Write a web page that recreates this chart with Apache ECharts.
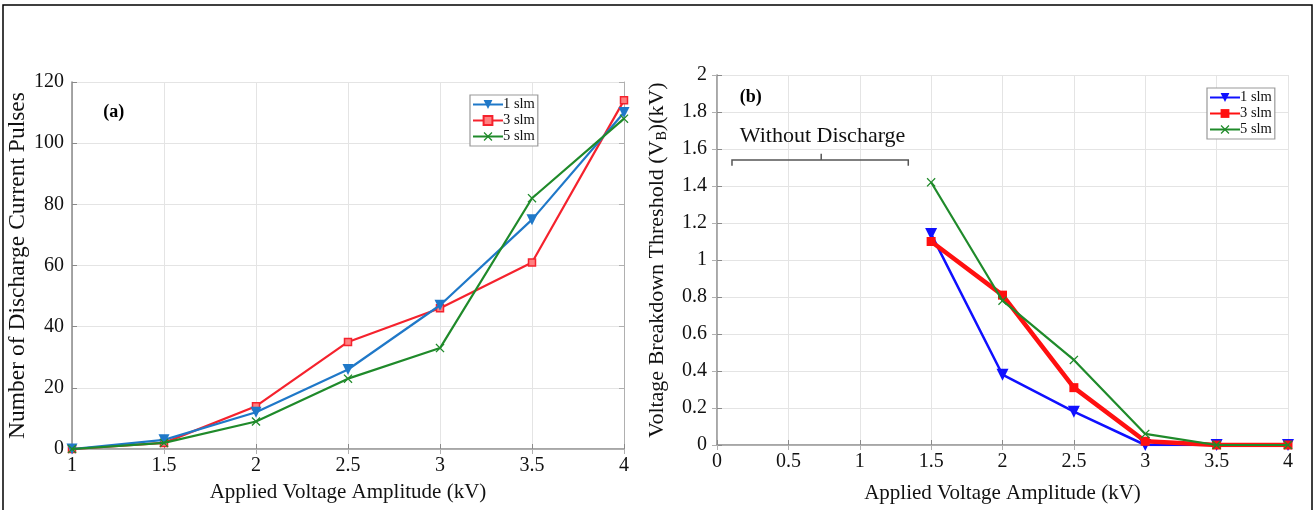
<!DOCTYPE html>
<html>
<head>
<meta charset="utf-8">
<script src="https://cdn.jsdelivr.net/npm/echarts@6/dist/echarts.min.js"></script>
<style>
html,body{margin:0;padding:0;background:#fff;}
#chart{width:1315px;height:510px;}
</style>
</head>
<body>
<div id="chart"></div>
<script>
// ---- data ----
var voltsA = [1, 1.5, 2, 2.5, 3, 3.5, 4];
var pulses1slm = [0, 3, 12, 26, 47, 75, 110];
var pulses3slm = [0, 2, 14, 35, 46, 61, 114];
var pulses5slm = [0, 2, 9, 23, 33, 82, 108];

var voltsB = [1.5, 2, 2.5, 3, 3.5, 4];
var vb1slm = [1.14, 0.38, 0.18, 0.00, 0.00, 0.00];
var vb3slm = [1.10, 0.81, 0.31, 0.02, 0.00, 0.00];
var vb5slm = [1.42, 0.78, 0.46, 0.06, 0.00, 0.00];

var legendNames = ['1 slm', '3 slm', '5 slm'];
var xTitle = 'Applied Voltage Amplitude (kV)';
var yTitleA = 'Number of Discharge Current Pulses';
var noteText = 'Without Discharge';

function pairs(xs, ys) { return xs.map(function (x, i) { return [x, ys[i]]; }); }

var FONT = '"Liberation Serif","Times New Roman",serif';
var crossPath = 'path://M0,1L1,0L5,4L9,0L10,1L6,5L10,9L9,10L5,6L1,10L0,9L4,5Z';
var gridColor = '#e4e4e4';
var axisColor = '#8a8a8a';
var TICK = 20;

function mainX(gi, min, max, interval, gap) {
  return {
    type: 'value', gridIndex: gi, min: min, max: max, interval: interval,
    name: xTitle, nameLocation: 'middle', nameGap: gap,
    nameTextStyle: { fontFamily: FONT, fontSize: 21, color: '#111' },
    axisLine: { show: true, lineStyle: { color: axisColor, width: 1.5 } },
    axisTick: { show: true, inside: true, length: 5, lineStyle: { color: axisColor } },
    axisLabel: { fontFamily: FONT, fontSize: TICK, color: '#111', margin: 7 },
    splitLine: { show: true, lineStyle: { color: gridColor, width: 1 } }
  };
}
function boxX(gi, min, max, interval) {
  return {
    type: 'value', gridIndex: gi, min: min, max: max, interval: interval, position: 'top',
    axisLine: { show: true, lineStyle: { color: '#b0b0b0', width: 1 } },
    axisTick: { show: true, inside: true, length: 5, lineStyle: { color: '#b0b0b0' } },
    axisLabel: { show: false }, splitLine: { show: false }
  };
}
function boxY(gi, min, max, interval) {
  return {
    type: 'value', gridIndex: gi, min: min, max: max, interval: interval, position: 'right',
    axisLine: { show: true, lineStyle: { color: '#b0b0b0', width: 1 } },
    axisTick: { show: true, inside: true, length: 5, lineStyle: { color: '#b0b0b0' } },
    axisLabel: { show: false }, splitLine: { show: false }
  };
}
function legendCfg(names, left, top) {
  return {
    data: names, orient: 'vertical', left: left, top: top,
    itemWidth: 30, itemHeight: 11, itemGap: 1,
    borderColor: '#999', borderWidth: 1.2, padding: [2, 3, 2, 2], backgroundColor: '#fff',
    textStyle: { fontFamily: FONT, fontSize: 14.5, color: '#111', padding: [0, 0, 0, -5] },
    formatter: function (n) { return n.replace('\u200b', ''); },
    selectedMode: false
  };
}

var option = {
  backgroundColor: '#fff',
  animation: false,
  grid: [
    { left: 72, right: 691, top: 82, bottom: 61 },
    { left: 717, right: 27, top: 75, bottom: 65 }
  ],
  xAxis: [
    mainX(0, 1, 4, 0.5, 33),
    mainX(1, 0, 4, 0.5, 38),
    boxX(0, 1, 4, 0.5),
    boxX(1, 0, 4, 0.5)
  ],
  yAxis: [
    {
      type: 'value', gridIndex: 0, min: 0, max: 120, interval: 20,
      name: yTitleA, nameLocation: 'middle', nameGap: 39,
      nameTextStyle: { fontFamily: FONT, fontSize: 23.5, color: '#111' },
      axisLine: { show: true, lineStyle: { color: axisColor, width: 1.5 } },
      axisTick: { show: true, inside: true, length: 5, lineStyle: { color: axisColor } },
      axisLabel: { fontFamily: FONT, fontSize: TICK, color: '#111', margin: 8 },
      splitLine: { show: true, lineStyle: { color: gridColor } }
    },
    {
      type: 'value', gridIndex: 1, min: 0, max: 2, interval: 0.2,
      name: '{t|Voltage Breakdown Threshold (V}{s|B}{t|)(kV)}', nameLocation: 'middle', nameGap: 48,
      nameTextStyle: {
        fontFamily: FONT, fontSize: 22, color: '#111',
        rich: {
          t: { fontFamily: FONT, fontSize: 22, color: '#111' },
          s: { fontFamily: FONT, fontSize: 14, color: '#111', padding: [9, 0, 0, 0] }
        }
      },
      axisLine: { show: true, lineStyle: { color: axisColor, width: 1.5 } },
      axisTick: { show: true, inside: true, length: 5, lineStyle: { color: axisColor } },
      axisLabel: {
        fontFamily: FONT, fontSize: TICK, color: '#111', margin: 10,
        formatter: function (v) { return String(Math.round(v * 10) / 10); }
      },
      splitLine: { show: true, lineStyle: { color: gridColor } }
    },
    boxY(0, 0, 120, 20),
    boxY(1, 0, 2, 0.2)
  ],
  legend: [
    legendCfg(legendNames, 470, 95),
    legendCfg(legendNames.map(function (n) { return n + '\u200b'; }), 1207, 88)
  ],
  series: [
    {
      name: legendNames[0], type: 'line', xAxisIndex: 0, yAxisIndex: 0,
      data: pairs(voltsA, pulses1slm), symbol: 'triangle', symbolRotate: 180, symbolSize: 11,
      lineStyle: { color: '#1f78c8', width: 2.2 }, itemStyle: { color: '#1f78c8' }, z: 4
    },
    {
      name: legendNames[1], type: 'line', xAxisIndex: 0, yAxisIndex: 0,
      data: pairs(voltsA, pulses3slm), symbol: 'rect', symbolSize: 7,
      lineStyle: { color: '#f5222d', width: 2.2 },
      itemStyle: { color: '#ff8080', borderColor: '#f5222d', borderWidth: 1.5 }, z: 3
    },
    {
      name: legendNames[2], type: 'line', xAxisIndex: 0, yAxisIndex: 0,
      data: pairs(voltsA, pulses5slm), symbol: crossPath, symbolSize: 9,
      lineStyle: { color: '#1f8a2a', width: 2.2 }, itemStyle: { color: '#1f8a2a' }, z: 5
    },
    {
      name: legendNames[0] + '\u200b', type: 'line', xAxisIndex: 1, yAxisIndex: 1,
      data: pairs(voltsB, vb1slm), symbol: 'triangle', symbolRotate: 180, symbolSize: 12,
      lineStyle: { color: '#1010ff', width: 2.5 }, itemStyle: { color: '#1010ff' }, z: 3
    },
    {
      name: legendNames[1] + '\u200b', type: 'line', xAxisIndex: 1, yAxisIndex: 1,
      data: pairs(voltsB, vb3slm), symbol: 'rect', symbolSize: 9,
      lineStyle: { color: '#ff1010', width: 4.5 }, itemStyle: { color: '#ff1010' }, z: 4
    },
    {
      name: legendNames[2] + '\u200b', type: 'line', xAxisIndex: 1, yAxisIndex: 1,
      data: pairs(voltsB, vb5slm), symbol: crossPath, symbolSize: 9,
      lineStyle: { color: '#1f8a2a', width: 2.2 }, itemStyle: { color: '#1f8a2a' }, z: 5
    }
  ]
};

var chart = echarts.init(document.getElementById('chart'), null, { renderer: 'canvas' });
chart.setOption(option);

// annotations placed through the axes' own scales
function px(gridIdx, x, y) {
  return chart.convertToPixel({ xAxisIndex: gridIdx, yAxisIndex: gridIdx }, [x, y]);
}
var pA = px(0, 1.17, 110);
var pB = px(1, 0.16, 1.88);
var pNote = px(1, 0.16, 1.67);
var bL = px(1, 0.105, 1.51), bLt = px(1, 0.105, 1.54);
var bR = px(1, 1.34, 1.51), bRt = px(1, 1.34, 1.54);
var bM = px(1, 0.73, 1.54), bMt = px(1, 0.73, 1.575);

chart.setOption({
  graphic: [
    { type: 'rect', shape: { x: 3, y: 5, width: 1309, height: 520 }, style: { fill: 'none', stroke: '#000', lineWidth: 1.5 }, silent: true, z: 100 },
    { type: 'text', x: pA[0], y: pA[1], style: { text: '(a)', font: 'bold 18px ' + FONT, fill: '#000', textVerticalAlign: 'middle' } },
    { type: 'text', x: pB[0], y: pB[1], style: { text: '(b)', font: 'bold 18px ' + FONT, fill: '#000', textVerticalAlign: 'middle' } },
    { type: 'text', x: pNote[0], y: pNote[1], style: { text: noteText, font: '22px ' + FONT, fill: '#111', textVerticalAlign: 'middle' } },
    { type: 'polyline', shape: { points: [bL, bLt, bRt, bR] }, style: { stroke: '#555', lineWidth: 1.5, fill: 'none' } },
    { type: 'polyline', shape: { points: [bM, bMt] }, style: { stroke: '#555', lineWidth: 1.5, fill: 'none' } }
  ]
});
</script>
</body>
</html>
